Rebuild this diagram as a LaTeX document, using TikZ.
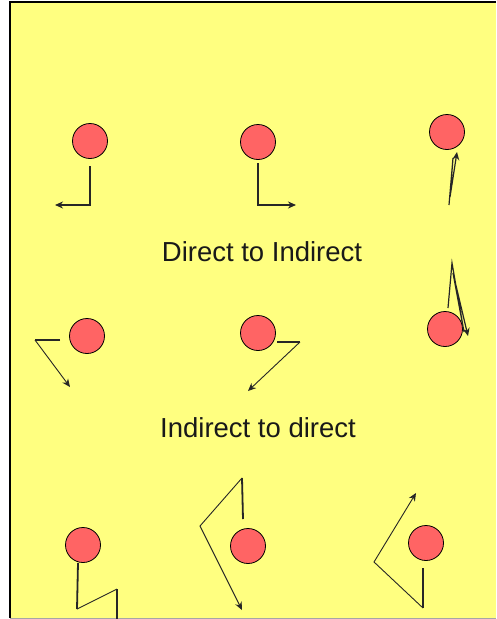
\documentclass[tikz,border=0pt]{standalone}
\usepackage{fontspec}
\setmainfont{Liberation Sans}
\usetikzlibrary{arrows.meta, calc}
\definecolor{panelyellow}{RGB}{255,255,128}
\definecolor{ballred}{RGB}{255,100,100}

\begin{document}
\begin{tikzpicture}[
  x=1pt, y=-1pt,
  ball/.style={circle, draw=black, fill=ballred, line width=0.8pt, minimum size=35pt, inner sep=0pt},
  stem/.style={line width=1.8pt, black!85},
  swing/.style={line width=0.9pt, black!85},
  tip/.style={-{Stealth[length=8pt, width=7pt]}},
  caption/.style={font=\fontsize{27.5}{30}\selectfont, text=black!90, anchor=base, inner sep=0pt}
]
\useasboundingbox (0,0) rectangle (496,619);
\fill[white] (0,0) rectangle (496,619);
\fill[panelyellow] (10,2) rectangle (496,618);
\draw[line width=2pt] (10,618) -- (10,2) -- (496,2);
\draw[gray!70, line width=1pt] (10,618.5) -- (496,618.5);

% balls
\node[ball] (b1) at (90,141) {};
\node[ball] (b2) at (258,142) {};
\node[ball] (b3) at (447,132) {};
\node[ball] (b4) at (87,336) {};
\node[ball] (b5) at (258,333) {};
\node[ball] (b6) at (445,329) {};
\node[ball] (b7) at (83,545) {};
\node[ball] (b8) at (248,546) {};
\node[ball] (b9) at (426,543) {};

\node[caption] (direct) at (262,261) {Direct to Indirect};
\node[caption] (indirect) at (258,437) {Indirect to direct};

% top row
\draw[stem, tip] ($(b1)+(0,25)$) -- ($(b1)+(0,64)$) -- ($(b1)+(-35,64)$);
\draw[stem, tip] ($(b2)+(0,21)$) -- ($(b2)+(0,63)$) -- ($(b2)+(38,63)$);
\draw[swing, line width=1.2pt, tip] ($(b3)+(2,73)$) -- ($(b3)+(6,26)$) -- ($(b3)+(3,65)$) -- ($(b3)+(10,20)$);

% middle row
\draw[stem] ($(b4)+(-27,4)$) -- ($(b4)+(-52,4)$);
\draw[swing, tip] ($(b4)+(-52,4)$) -- ($(b4)+(-17,51)$);
\draw[stem] ($(b5)+(19,9)$) -- ($(b5)+(42,9)$);
\draw[swing, tip] ($(b5)+(42,9)$) -- ($(b5)+(-10,58)$);
\draw[swing, line width=1.2pt, tip] ($(b6)+(3,-21)$) -- ($(b6)+(7,-66)$) -- ($(b6)+(19,3)$) -- ($(b6)+(8,-56)$) -- ($(b6)+(23,7)$);

% bottom row
\draw[stem] ($(b7)+(-5,18)$) -- ($(b7)+(-6,64)$);
\draw[swing] ($(b7)+(-6,64)$) -- ($(b7)+(34,44)$);
\draw[stem] ($(b7)+(34,44)$) -- ($(b7)+(34,74)$);
\draw[stem] ($(b8)+(-5,-27)$) -- ($(b8)+(-6,-68)$);
\draw[swing, tip] ($(b8)+(-6,-68)$) -- ($(b8)+(-48,-20)$) -- ($(b8)+(-6,64)$);
\draw[stem] ($(b9)+(-3,25)$) -- ($(b9)+(-3,65)$);
\draw[swing, tip] ($(b9)+(-3,65)$) -- ($(b9)+(-52,19)$) -- ($(b9)+(-10,-50)$);
\end{tikzpicture}
\end{document}
